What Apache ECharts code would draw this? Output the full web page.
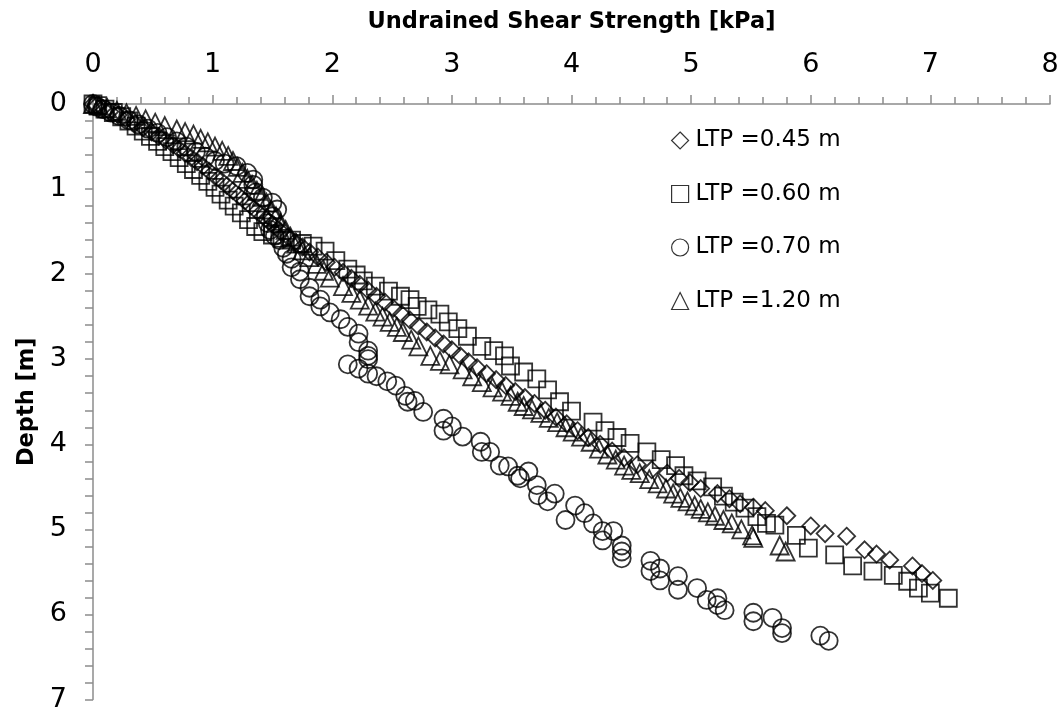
<!DOCTYPE html>
<html>
<head>
<meta charset="utf-8">
<script src="https://cdn.jsdelivr.net/npm/echarts@6/dist/echarts.min.js"></script>
<style>
  html, body { margin: 0; padding: 0; background: #fff; }
  #chart { width: 1064px; height: 713px; }
</style>
</head>
<body>
<div id="chart"></div>
<script>
// [shear strength kPa, depth m]
var ltp045 = [
  [0,0],[0.03,0.02],[0.08,0.05],[0.14,0.09],[0.21,0.13],[0.28,0.18],[0.35,0.23],[0.42,0.28],
  [0.49,0.33],[0.55,0.38],[0.61,0.43],[0.67,0.48],[0.72,0.53],[0.77,0.58],[0.82,0.63],[0.87,0.68],
  [0.92,0.73],[0.97,0.79],[1.02,0.85],[1.07,0.9],[1.12,0.96],[1.17,1.02],[1.22,1.08],[1.27,1.14],
  [1.32,1.2],[1.37,1.26],[1.42,1.32],[1.47,1.38],[1.52,1.44],[1.57,1.5],[1.63,1.56],[1.69,1.62],
  [1.75,1.68],[1.81,1.74],[1.88,1.8],[1.95,1.86],[2.02,1.92],[2.09,1.98],[2.16,2.05],[2.23,2.12],
  [2.3,2.19],[2.37,2.26],[2.44,2.33],[2.51,2.4],[2.58,2.47],[2.65,2.54],[2.72,2.61],[2.79,2.68],
  [2.86,2.75],[2.93,2.82],[3.0,2.89],[3.07,2.96],[3.14,3.03],[3.21,3.1],[3.29,3.17],[3.37,3.24],
  [3.45,3.31],[3.53,3.38],[3.61,3.45],[3.69,3.52],[3.78,3.6],[3.87,3.68],[3.96,3.76],[4.05,3.84],
  [4.14,3.92],[4.24,4.0],[4.34,4.08],[4.44,4.16],[4.55,4.24],[4.67,4.3],[4.8,4.34],[4.9,4.4],
  [4.99,4.45],[5.08,4.52],[5.22,4.58],[5.32,4.64],[5.41,4.7],[5.52,4.74],[5.62,4.78],[5.8,4.84],
  [6.0,4.96],[6.12,5.05],[6.3,5.08],[6.45,5.24],[6.55,5.29],[6.66,5.36],[6.85,5.43],[6.93,5.52],
  [7.02,5.6]
];
var ltp060 = [
  [0,0],[0.04,0.02],[0.1,0.06],[0.17,0.1],[0.24,0.15],[0.3,0.2],[0.36,0.26],[0.42,0.32],
  [0.48,0.38],[0.54,0.44],[0.6,0.5],[0.66,0.56],[0.72,0.63],[0.78,0.7],[0.84,0.77],[0.9,0.84],
  [0.96,0.91],[1.02,0.98],[1.07,1.06],[1.13,1.13],[1.18,1.2],[1.24,1.28],[1.3,1.36],[1.36,1.44],
  [1.42,1.5],[1.5,1.54],[1.58,1.58],[1.66,1.6],[1.75,1.64],[1.84,1.67],[1.94,1.73],[2.03,1.84],
  [2.13,1.94],[2.2,2.01],[2.26,2.08],[2.36,2.14],[2.47,2.2],[2.57,2.26],[2.65,2.3],[2.71,2.38],
  [2.8,2.42],[2.9,2.47],[2.97,2.56],[3.05,2.64],[3.13,2.73],[3.25,2.85],[3.35,2.9],[3.44,2.96],
  [3.49,3.08],[3.6,3.15],[3.71,3.23],[3.8,3.36],[3.9,3.5],[4.0,3.61],[4.18,3.74],[4.28,3.84],
  [4.38,3.92],[4.49,3.99],[4.63,4.09],[4.75,4.18],[4.87,4.25],[4.94,4.37],[5.05,4.43],[5.18,4.5],
  [5.27,4.61],[5.36,4.68],[5.45,4.75],[5.55,4.85],[5.63,4.93],[5.7,4.95],[5.88,5.07],[5.98,5.22],
  [6.2,5.3],[6.35,5.43],[6.52,5.49],[6.69,5.54],[6.81,5.61],[6.9,5.69],[7.0,5.75],[7.15,5.81]
];
var ltp070 = [
  [0,0],[0.03,0.03],[0.08,0.06],[0.15,0.1],[0.22,0.14],[0.3,0.19],[0.38,0.24],[0.46,0.29],
  [0.54,0.34],[0.62,0.39],[0.7,0.44],[0.78,0.5],[0.86,0.56],[0.94,0.62],[1.02,0.67],[1.1,0.7],
  [1.2,0.73],[1.29,0.81],[1.34,0.89],[1.34,0.95],[1.36,1.04],[1.42,1.1],[1.5,1.16],[1.54,1.24],
  [1.5,1.32],[1.46,1.4],[1.48,1.48],[1.52,1.55],[1.56,1.6],[1.59,1.69],[1.62,1.76],[1.66,1.82],
  [1.66,1.92],[1.73,1.97],[1.73,2.06],[1.81,2.16],[1.81,2.26],[1.9,2.3],[1.9,2.38],[1.98,2.45],
  [2.07,2.53],[2.13,2.62],[2.22,2.7],[2.22,2.8],[2.3,2.9],[2.3,2.96],[2.3,3.0],[2.13,3.06],
  [2.22,3.11],[2.3,3.17],[2.37,3.2],[2.46,3.26],[2.53,3.31],[2.61,3.43],[2.63,3.5],[2.69,3.49],
  [2.76,3.62],[2.93,3.7],[2.93,3.84],[3.0,3.79],[3.09,3.91],[3.24,3.97],[3.25,4.09],[3.32,4.09],
  [3.4,4.25],[3.47,4.26],[3.55,4.37],[3.57,4.4],[3.64,4.32],[3.71,4.48],[3.72,4.6],[3.8,4.67],
  [3.86,4.58],[3.95,4.89],[4.03,4.72],[4.11,4.81],[4.18,4.93],[4.26,5.02],[4.26,5.13],[4.35,5.02],
  [4.42,5.19],[4.42,5.26],[4.42,5.34],[4.66,5.37],[4.66,5.49],[4.74,5.46],[4.74,5.6],[4.89,5.55],
  [4.89,5.71],[5.05,5.69],[5.13,5.83],[5.22,5.81],[5.22,5.89],[5.28,5.95],[5.52,5.98],[5.52,6.08],
  [5.68,6.04],[5.76,6.16],[5.76,6.22],[6.08,6.25],[6.15,6.31]
];
var ltp120 = [
  [0,0],[0.05,0.02],[0.12,0.05],[0.2,0.08],[0.28,0.11],[0.36,0.14],[0.44,0.18],[0.52,0.22],
  [0.6,0.26],[0.7,0.3],[0.77,0.33],[0.84,0.36],[0.9,0.41],[0.96,0.45],[1.02,0.5],[1.08,0.55],
  [1.13,0.61],[1.17,0.67],[1.21,0.74],[1.25,0.81],[1.29,0.88],[1.33,0.95],[1.37,1.02],[1.41,1.09],
  [1.45,1.16],[1.49,1.24],[1.53,1.32],[1.57,1.4],[1.61,1.48],[1.65,1.56],[1.7,1.64],[1.75,1.72],
  [1.81,1.8],[1.87,1.88],[1.93,1.96],[1.98,2.04],[2.09,2.14],[2.16,2.22],[2.23,2.3],[2.3,2.37],
  [2.36,2.44],[2.42,2.5],[2.48,2.56],[2.54,2.62],[2.59,2.68],[2.66,2.77],[2.72,2.85],[2.82,2.96],
  [2.9,3.02],[2.98,3.06],[3.09,3.12],[3.17,3.2],[3.25,3.27],[3.34,3.33],[3.42,3.38],[3.49,3.43],
  [3.55,3.5],[3.6,3.55],[3.67,3.59],[3.74,3.63],[3.81,3.69],[3.88,3.74],[3.95,3.8],[4.01,3.85],
  [4.08,3.91],[4.16,3.97],[4.23,4.05],[4.3,4.12],[4.37,4.18],[4.44,4.25],[4.5,4.3],[4.57,4.34],
  [4.65,4.41],[4.72,4.46],[4.79,4.52],[4.85,4.58],[4.91,4.63],[4.97,4.67],[5.03,4.72],[5.08,4.76],
  [5.14,4.8],[5.2,4.84],[5.27,4.89],[5.34,4.93],[5.42,5.0],[5.51,5.07],[5.52,5.1],[5.74,5.19],
  [5.79,5.26]
];

var seriesNames = ['LTP =0.45 m', 'LTP =0.60 m', 'LTP =0.70 m', 'LTP =1.20 m'];
var xRange = [0, 8];
var yRange = [0, 7];

var chart = echarts.init(document.getElementById('chart'));

var axisGray = '#8c8c8c';
var tickFont = { fontFamily: 'DejaVu Sans', fontSize: 27, color: '#000' };
var nameFont = { fontFamily: 'DejaVu Sans', fontWeight: 'bold', fontSize: 22.5, color: '#000' };

function scatter(name, data, symbol, size) {
  return {
    name: name,
    type: 'scatter',
    data: data,
    symbol: symbol,
    symbolSize: size,
    itemStyle: { color: 'rgba(0,0,0,0)', borderColor: '#000', borderWidth: 1.8 },
    emphasis: { disabled: true }
  };
}

chart.setOption({
  animation: false,
  backgroundColor: '#fff',
  grid: { left: 93, top: 104, right: 14, bottom: 11, containLabel: false },
  legend: {
    orient: 'vertical',
    left: 666,
    top: 124,
    itemWidth: 17,
    itemHeight: 17,
    itemGap: 30.5,
    data: seriesNames,
    itemStyle: { borderWidth: 1.2 },
    textStyle: { fontFamily: 'DejaVu Sans', fontSize: 23, color: '#000', padding: [0, 0, 0, 2] }
  },
  xAxis: {
    type: 'value',
    position: 'top',
    min: xRange[0],
    max: xRange[1],
    interval: 1,
    name: 'Undrained Shear Strength [kPa]',
    nameLocation: 'middle',
    nameGap: 70,
    nameTextStyle: nameFont,
    axisLine: { show: true, lineStyle: { color: axisGray, width: 1.5 } },
    axisTick: { show: true, inside: false, length: 9, lineStyle: { color: axisGray, width: 1.5 } },
    minorTick: { show: true, splitNumber: 5, length: 7, lineStyle: { color: axisGray, width: 1.5 } },
    axisLabel: Object.assign({ margin: 26 }, tickFont),
    splitLine: { show: false }
  },
  yAxis: {
    type: 'value',
    inverse: true,
    min: yRange[0],
    max: yRange[1],
    interval: 1,
    name: 'Depth [m]',
    nameLocation: 'middle',
    nameGap: 47,
    nameRotate: 90,
    nameTextStyle: nameFont,
    axisLine: { show: true, lineStyle: { color: axisGray, width: 1.5 } },
    axisTick: { show: true, inside: false, length: 8, lineStyle: { color: axisGray, width: 1.5 } },
    minorTick: { show: true, splitNumber: 5, length: 8, lineStyle: { color: axisGray, width: 1.5 } },
    axisLabel: Object.assign({ margin: 26 }, tickFont),
    splitLine: { show: false }
  },
  series: [
    scatter(seriesNames[0], ltp045, 'diamond', 17),
    scatter(seriesNames[1], ltp060, 'rect', 17),
    scatter(seriesNames[2], ltp070, 'circle', 18),
    scatter(seriesNames[3], ltp120, 'triangle', 18)
  ]
});
</script>
</body>
</html>
